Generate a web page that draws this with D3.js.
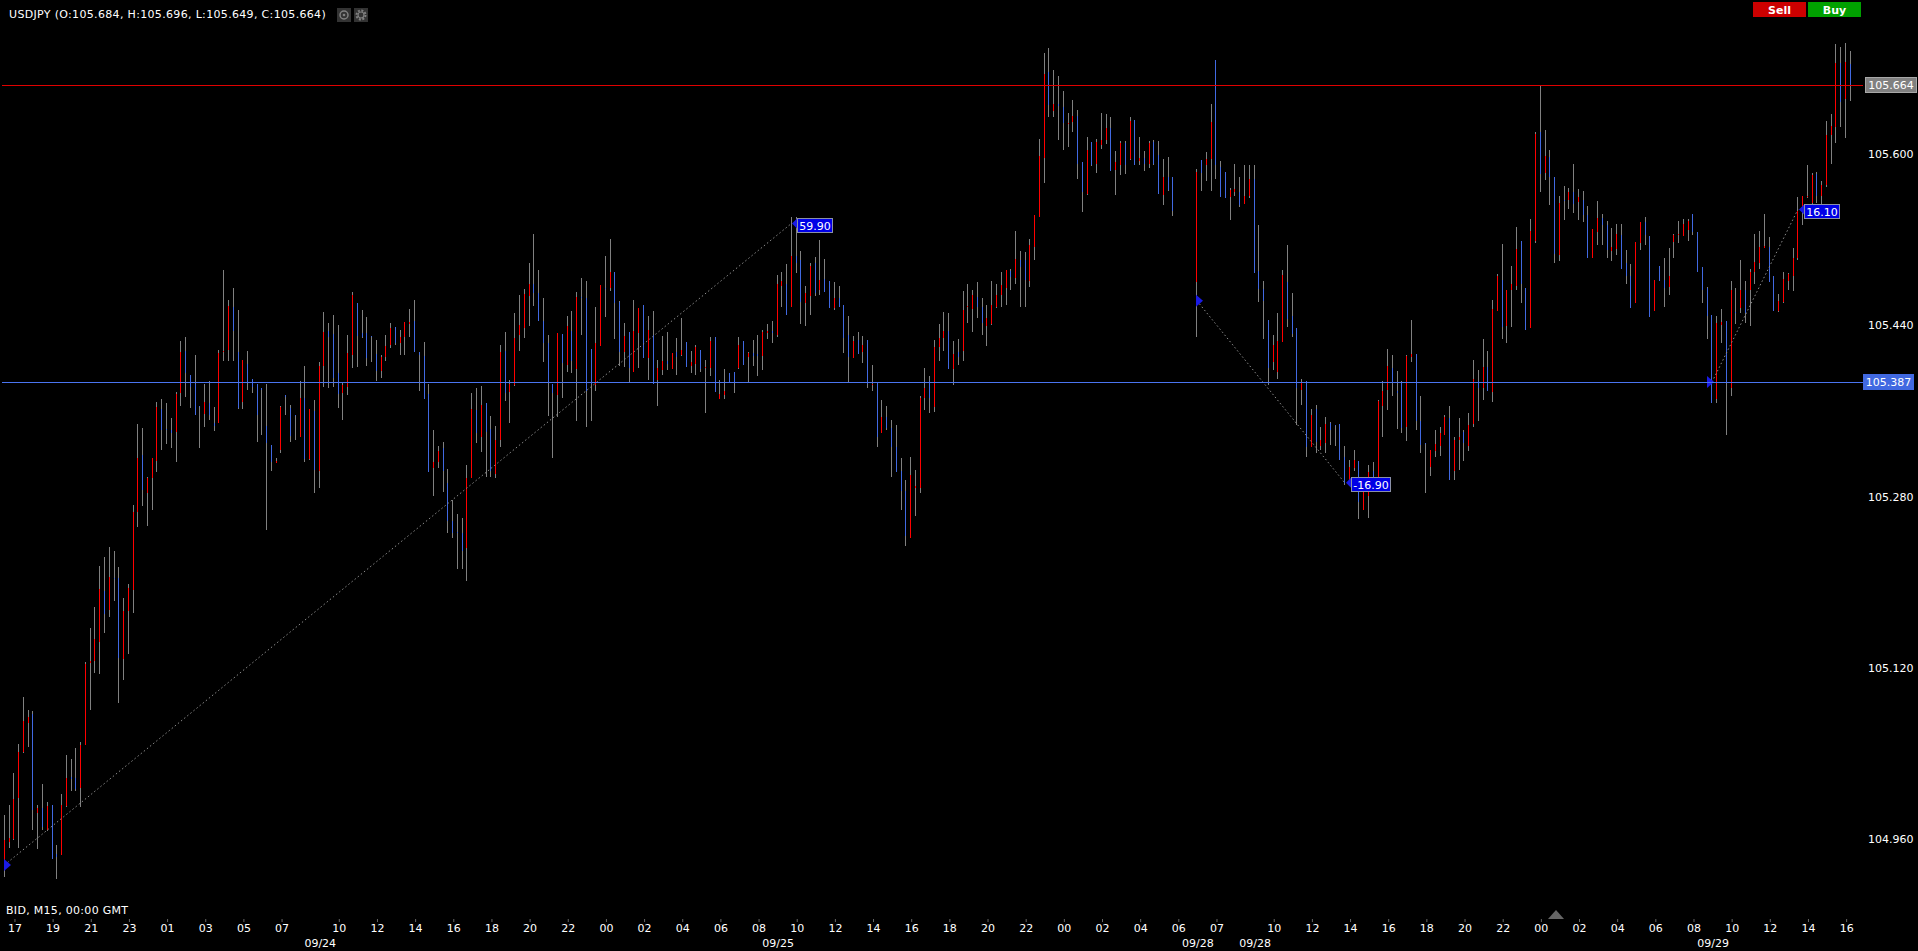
<!DOCTYPE html>
<html>
<head>
<meta charset="utf-8">
<title>USDJPY M15</title>
<script src="https://cdn.jsdelivr.net/npm/d3@7/dist/d3.min.js"></script>
<style>
    html, body { margin: 0; padding: 0; background: #000; overflow: hidden; }
    svg { display: block; font-family: "DejaVu Sans", sans-serif; font-size: 11px; }
    .marks line { shape-rendering: crispEdges; }
</style>
</head>
<body>
<svg id="chart" width="1918" height="951"></svg>
<script>
// Prices are stored in thousandths above 104.000, one entry per M15 bar.
// The four nulls are the weekend gap between the 09/25 and 09/28 sessions.
const highs = [
    983,992,1022,1049,1093,1081,1080,992,1012,995,
    992,955,1002,1039,1035,1045,1051,1126,1157,1177,
    1215,1224,1233,1229,1214,1185,1198,1272,1348,1344,
    1298,1316,1368,1371,1367,1353,1378,1425,1429,1394,
    1412,1365,1385,1388,1364,1417,1492,1464,1475,1454,
    1408,1416,1390,1385,1381,1385,1328,1316,1365,1375,
    1366,1356,1388,1402,1362,1370,1406,1452,1442,1450,
    1440,1387,1431,1471,1461,1454,1448,1430,1426,1412,
    1431,1442,1438,1436,1443,1455,1464,1415,1424,1385,
    1342,1327,1331,1306,1277,1264,1260,1310,1377,1381,
    1383,1367,1355,1346,1422,1434,1389,1451,1468,1474,
    1498,1525,1492,1465,1431,1385,1433,1432,1449,1453,
    1471,1484,1481,1418,1457,1478,1505,1521,1490,1463,
    1442,1434,1464,1456,1459,1449,1453,1408,1430,1434,
    1414,1428,1447,1424,1416,1422,1417,1408,1429,1429,
    1389,1399,1395,1396,1429,1425,1415,1426,1431,1436,
    1441,1444,1487,1490,1497,1541,1541,1509,1477,1498,
    1504,1520,1502,1481,1480,1477,1459,1449,1430,1434,
    1430,1426,1403,1387,1370,1365,1352,1347,1316,1296,
    1317,1305,1374,1400,1393,1426,1441,1452,1451,1425,
    1427,1472,1479,1473,1480,1465,1459,1481,1479,1490,
    1492,1493,1528,1509,1508,1521,1543,1614,1694,1699,
    1678,1673,1659,1638,1650,1641,1592,1616,1611,1614,
    1638,1637,1634,1603,1612,1612,1634,1632,1616,1603,
    1612,1613,1612,1595,1597,1578,null,null,null,null,
    1586,1594,1602,1647,1688,1593,1583,1568,1591,1578,
    1590,1590,1590,1534,1481,1445,1431,1451,1492,1515,
    1470,1437,1390,1388,1362,1366,1345,1354,1350,1347,
    1348,1327,1314,1324,1313,1297,1310,1312,1370,1388,
    1418,1412,1397,1388,1412,1445,1413,1374,1330,1324,
    1342,1345,1356,1365,1336,1353,1342,1358,1408,1398,
    1427,1416,1464,1488,1516,1473,1495,1532,1519,1475,
    1539,1620,1663,1622,1604,1578,1561,1570,1568,1591,
    1567,1565,1551,1530,1556,1544,1537,1531,1535,1535,
    1510,1497,1518,1536,1541,1523,1482,1495,1503,1512,
    1525,1537,1539,1539,1544,1527,1494,1476,1450,1449,
    1455,1444,1481,1475,1501,1481,1493,1525,1528,1544,
    1522,1486,1469,1490,1489,1512,1560,1561,1590,1582,
    1583,1575,1631,1637,1703,1700,1704,1696
];
const lows = [
    925,952,959,952,1041,1046,969,951,969,968,
    942,923,945,990,1005,1005,990,1048,1081,1115,
    1114,1153,1168,1183,1087,1109,1133,1171,1252,1271,
    1253,1268,1303,1324,1329,1325,1312,1365,1373,1363,
    1356,1325,1345,1352,1341,1349,1407,1407,1407,1362,
    1362,1380,1377,1331,1338,1249,1304,1311,1321,1356,
    1331,1333,1336,1312,1314,1283,1288,1382,1381,1382,
    1363,1352,1375,1400,1401,1428,1402,1406,1388,1391,
    1407,1419,1422,1412,1412,1429,1415,1379,1371,1303,
    1281,1307,1284,1246,1241,1212,1212,1201,1297,1330,
    1322,1298,1298,1297,1326,1369,1349,1383,1416,1428,
    1439,1458,1444,1406,1355,1316,1354,1372,1396,1395,
    1351,1431,1345,1351,1379,1421,1448,1472,1427,1402,
    1401,1387,1396,1400,1409,1389,1385,1365,1394,1398,
    1399,1394,1411,1401,1395,1394,1396,1358,1393,1378,
    1371,1371,1386,1377,1399,1403,1387,1402,1393,1398,
    1427,1423,1429,1457,1450,1457,1489,1441,1439,1450,
    1467,1468,1471,1456,1454,1457,1414,1387,1409,1413,
    1405,1381,1379,1326,1339,1342,1298,1303,1268,1234,
    1241,1262,1283,1361,1358,1359,1407,1416,1399,1384,
    1403,1407,1442,1434,1447,1431,1421,1440,1456,1457,
    1459,1473,1479,1457,1457,1476,1501,1541,1573,1634,
    1634,1613,1604,1606,1620,1577,1546,1562,1589,1582,
    1605,1609,1584,1562,1580,1581,1594,1590,1590,1584,
    1587,1590,1563,1552,1565,1542,null,null,null,null,
    1429,1565,1575,1565,1577,1560,1559,1538,1561,1550,
    1553,1559,1489,1462,1427,1384,1398,1390,1424,1438,
    1429,1347,1366,1317,1326,1321,1324,1321,1328,1327,
    1314,1291,1295,1304,1259,1268,1260,1287,1292,1336,
    1361,1374,1343,1339,1332,1406,1342,1321,1283,1299,
    1317,1318,1338,1296,1296,1305,1313,1323,1345,1351,
    1370,1379,1368,1453,1427,1423,1438,1473,1461,1436,
    1437,1517,1564,1576,1552,1498,1500,1538,1549,1545,
    1538,1536,1503,1503,1515,1515,1503,1500,1506,1493,
    1479,1456,1461,1510,1515,1448,1453,1481,1457,1468,
    1503,1517,1523,1519,1524,1490,1461,1427,1367,1367,
    1423,1338,1374,1441,1451,1442,1439,1479,1493,1512,
    1480,1453,1452,1461,1473,1472,1501,1534,1559,1553,
    1554,1553,1569,1591,1610,1625,1615,1649
];
const opens = [
    939,958,960,999,1042,1069,1077,985,989,969,
    992,946,945,991,1018,1017,1008,1048,1125,1127,
    1144,1192,1174,1204,1204,1128,1173,1193,1266,1319,
    1283,1297,1313,1362,1343,1342,1340,1377,1416,1394,
    1385,1365,1357,1367,1349,1349,1415,1417,1457,1415,
    1368,1404,1390,1385,1381,1346,1328,1311,1324,1375,
    1363,1356,1336,1372,1315,1360,1304,1402,1435,1432,
    1395,1377,1382,1412,1461,1433,1433,1430,1413,1397,
    1410,1422,1438,1423,1429,1441,1444,1415,1411,1376,
    1307,1312,1325,1293,1257,1247,1246,1232,1297,1361,
    1336,1367,1343,1301,1333,1416,1378,1384,1431,1437,
    1467,1479,1470,1444,1423,1385,1375,1432,1403,1435,
    1399,1466,1465,1418,1384,1421,1475,1475,1490,1462,
    1415,1434,1396,1433,1459,1409,1431,1389,1398,1407,
    1399,1415,1412,1424,1402,1404,1417,1400,1400,1429,
    1371,1375,1395,1396,1400,1425,1410,1414,1413,1411,
    1433,1435,1431,1477,1479,1457,1505,1501,1461,1467,
    1498,1473,1483,1481,1456,1465,1459,1431,1409,1426,
    1415,1426,1384,1386,1339,1354,1344,1326,1304,1285,
    1241,1288,1288,1372,1388,1364,1420,1428,1435,1399,
    1415,1416,1457,1455,1466,1457,1439,1441,1457,1468,
    1475,1491,1484,1501,1501,1481,1513,1541,1596,1676,
    1640,1647,1644,1628,1630,1635,1592,1563,1611,1591,
    1608,1613,1624,1585,1590,1610,1595,1632,1593,1596,
    1591,1611,1599,1562,1578,1578,null,null,null,null,
    1480,1594,1590,1595,1688,1588,1583,1560,1564,1564,
    1553,1561,1577,1491,1474,1445,1406,1396,1424,1480,
    1449,1437,1380,1388,1326,1362,1327,1330,1349,1347,
    1348,1317,1295,1307,1313,1268,1281,1304,1295,1365,
    1380,1400,1379,1386,1345,1410,1413,1351,1330,1308,
    1323,1327,1338,1353,1304,1333,1340,1327,1348,1388,
    1381,1401,1378,1453,1482,1439,1473,1477,1519,1475,
    1437,1519,1620,1582,1597,1578,1506,1557,1557,1564,
    1555,1557,1543,1503,1527,1540,1534,1509,1511,1524,
    1498,1486,1461,1517,1536,1523,1453,1495,1482,1476,
    1518,1524,1523,1529,1544,1527,1494,1475,1450,1371,
    1440,1444,1381,1452,1456,1473,1473,1490,1498,1512,
    1513,1486,1453,1462,1481,1486,1503,1548,1560,1554,
    1581,1561,1571,1618,1625,1685,1651,1684
];
const closes = [
    959,961,998,1042,1071,1074,987,989,972,991,
    942,944,992,1017,1016,1007,1048,1124,1127,1147,
    1194,1170,1205,1203,1129,1173,1195,1266,1316,1286,
    1297,1316,1364,1342,1342,1339,1376,1415,1395,1382,
    1356,1364,1368,1356,1346,1414,1416,1458,1435,1363,
    1408,1386,1382,1356,1380,1330,1312,1313,1364,1373,
    1337,1355,1372,1315,1362,1305,1402,1434,1429,1391,
    1376,1384,1414,1468,1430,1429,1409,1429,1397,1410,
    1421,1437,1423,1429,1443,1443,1415,1412,1371,1303,
    1312,1323,1304,1257,1246,1246,1229,1297,1362,1339,
    1366,1340,1304,1333,1415,1377,1385,1428,1440,1469,
    1479,1470,1444,1423,1386,1377,1433,1405,1439,1407,
    1466,1465,1379,1385,1423,1478,1474,1490,1461,1415,
    1430,1400,1435,1456,1409,1436,1385,1400,1407,1404,
    1414,1410,1417,1401,1406,1420,1399,1401,1425,1378,
    1376,1379,1386,1386,1422,1403,1414,1411,1411,1434,
    1435,1433,1479,1481,1450,1505,1498,1462,1470,1495,
    1470,1482,1471,1456,1465,1457,1428,1410,1425,1413,
    1422,1385,1385,1336,1354,1344,1326,1303,1285,1243,
    1300,1290,1372,1381,1372,1420,1428,1435,1399,1413,
    1410,1454,1458,1468,1457,1442,1447,1459,1468,1478,
    1492,1485,1502,1494,1482,1515,1543,1598,1675,1646,
    1647,1645,1629,1629,1635,1591,1564,1604,1590,1611,
    1613,1624,1584,1592,1610,1590,1631,1590,1596,1591,
    1610,1591,1563,1578,1566,1547,null,null,null,null,
    1583,1582,1595,1630,1590,1560,1559,1566,1567,1552,
    1561,1577,1489,1474,1463,1400,1422,1425,1487,1446,
    1432,1381,1386,1326,1356,1331,1333,1348,1342,1346,
    1314,1293,1308,1314,1275,1284,1303,1287,1369,1379,
    1402,1386,1377,1344,1411,1413,1351,1328,1329,1324,
    1329,1339,1354,1296,1333,1336,1330,1347,1390,1381,
    1401,1379,1455,1486,1438,1473,1479,1511,1479,1436,
    1528,1619,1581,1598,1578,1507,1554,1556,1564,1553,
    1560,1543,1503,1530,1540,1534,1510,1513,1525,1493,
    1486,1456,1518,1536,1524,1448,1482,1481,1475,1486,
    1524,1525,1535,1537,1527,1490,1473,1449,1367,1442,
    1443,1386,1473,1451,1473,1451,1490,1499,1513,1514,
    1480,1453,1463,1483,1488,1503,1547,1561,1561,1580,
    1561,1571,1618,1626,1685,1648,1686,1664
];

// Time axis: bar index of each labelled hour, then the labels
const hourBars = [2,10,18,26,34,42,50,58,70,78,86,94,102,110,118,126,134,142,150,158,166,174,182,190,198,206,214,222,230,238,246,254,266,274,282,290,298,306,314,322,330,338,346,354,362,370,378,386];
const hourLabels = ['17','19','21','23','01','03','05','07','10','12','14','16','18','20','22','00','02','04','06','08','10','12','14','16','18','20','22','00','02','04','06','07','10','12','14','16','18','20','22','00','02','04','06','08','10','12','14','16'];
const dateBars = [66, 162, 250, 262, 358];
const dateLabels = ['09/24', '09/25', '09/28', '09/28', '09/29'];

// Price axis and level lines
const priceTicks = [105.6, 105.44, 105.28, 105.12, 104.96];
const lastPrice = 105.664;
const alertPrice = 105.387;

// Measurement trend lines, each from a start bar/price to an end bar/price
const trendStartBars = [0, 250, 358];
const trendEndBars = [165, 281, 376];
const trendStartPrices = [104.936, 105.463, 105.387];
const trendEndPrices = [105.535, 105.293, 105.548];
const trendMarkerBars = [0, 250, 357];
const trendLabels = ['59.90', '-16.90', '16.10'];

const titleText = 'USDJPY (O:105.684, H:105.696, L:105.649, C:105.664)';
const infoText = 'BID, M15, 00:00 GMT';

const upColor = '#ff0000', downColor = '#4169e1', wickColor = '#808080',
    textColor = '#ffffff', lastColor = '#e00000', alertColor = '#4a74f0', markerColor = '#1a1ae6';

const price = v => 104 + v / 1000;

const svg = d3.select('#chart');

const xScale = d3.scaleLinear().domain([0, 387]).range([4.3, 1850.3]);
const yScale = d3.scaleLinear().domain([104.96, 105.6]).range([839.4, 153.9]);
const barX = i => Math.floor(xScale(i)) + 0.5;

const bars = d3.range(highs.length)
    .filter(i => highs[i] !== null)
    .map(i => ({ i, o: price(opens[i]), h: price(highs[i]), l: price(lows[i]), c: price(closes[i]) }));

/**
 * Bars: grey high-low wick with a coloured open-close segment on top.
 */
const marks = svg.append('g').attr('class', 'marks');

marks.append('g').selectAll('line').data(bars).join('line')
    .attr('x1', d => barX(d.i)).attr('x2', d => barX(d.i))
    .attr('y1', d => yScale(d.h)).attr('y2', d => yScale(d.l))
    .attr('stroke', wickColor);

marks.append('g').selectAll('line').data(bars).join('line')
    .attr('x1', d => barX(d.i)).attr('x2', d => barX(d.i))
    .attr('y1', d => yScale(Math.max(d.o, d.c))).attr('y2', d => yScale(Math.min(d.o, d.c)))
    .attr('stroke', d => d.c > d.o ? upColor : downColor);

/**
 * Trend lines and their labels.
 */
const trends = svg.append('g');
trendLabels.forEach((label, k) => {
    const x1 = xScale(trendStartBars[k]), y1 = yScale(trendStartPrices[k]),
        x2 = xScale(trendEndBars[k]), y2 = yScale(trendEndPrices[k]);
    trends.append('line')
        .attr('x1', x1).attr('y1', y1).attr('x2', x2).attr('y2', y2)
        .attr('stroke', '#8c8c8c').attr('stroke-dasharray', '1.5 2.5');

    const mx = Math.floor(xScale(trendMarkerBars[k]));
    trends.append('path')
        .attr('d', `M${mx},${y1 - 6}L${mx + 7},${y1}L${mx},${y1 + 6}Z`)
        .attr('fill', markerColor);

    const boxW = label.length > 5 ? 40 : 36;
    const boxX = Math.round(x2) + 6;
    const boxY = Math.round(y2) - 6;
    trends.append('path')
        .attr('d', `M${boxX},${y2 - 5}L${boxX - 5},${y2}L${boxX},${y2 + 5}Z`)
        .attr('fill', markerColor);
    trends.append('rect')
        .attr('x', boxX + 0.5).attr('y', boxY + 0.5)
        .attr('width', boxW - 1).attr('height', 14)
        .attr('fill', '#0000e6').attr('stroke', '#8a90a8');
    trends.append('text')
        .attr('x', boxX + boxW / 2).attr('y', boxY + 11.5)
        .attr('text-anchor', 'middle').attr('fill', textColor)
        .text(label);
});

/**
 * Level lines, drawn over the bars.
 */
function addLevel(value, color) {
    svg.append('line')
        .attr('x1', 2).attr('x2', 1863)
        .attr('y1', Math.floor(yScale(value)) + 0.5).attr('y2', Math.floor(yScale(value)) + 0.5)
        .attr('stroke', color)
        .style('shape-rendering', 'crispEdges');
}
addLevel(lastPrice, lastColor);
addLevel(alertPrice, alertColor);

/**
 * Axes.
 */
const yAxis = d3.axisRight(yScale)
    .tickValues(priceTicks)
    .tickSize(0)
    .tickPadding(0)
    .tickFormat(d3.format('.3f'));

svg.append('g')
    .attr('transform', 'translate(1868,0)')
    .call(yAxis)
    .call(g => g.select('.domain').remove())
    .attr('font-size', 11).attr('font-family', null)
    .style('color', textColor);

const xAxis = d3.axisBottom(xScale)
    .tickValues(hourBars)
    .tickSize(3)
    .tickPadding(2)
    .tickFormat(d => hourLabels[hourBars.indexOf(d)]);

svg.append('g')
    .attr('transform', 'translate(0.6,919)')
    .call(xAxis)
    .call(g => g.select('.domain').remove())
    .call(g => g.selectAll('.tick line').attr('stroke', '#666'))
    .attr('font-size', 11).attr('font-family', null)
    .style('color', textColor);

const dateAxis = d3.axisBottom(xScale)
    .tickValues(dateBars)
    .tickSize(0)
    .tickPadding(0)
    .tickFormat(d => dateLabels[dateBars.indexOf(d)]);

svg.append('g')
    .attr('transform', 'translate(0.6,939)')
    .call(dateAxis)
    .call(g => g.select('.domain').remove())
    .attr('font-size', 11).attr('font-family', null)
    .style('color', textColor);

/**
 * Price tags on the right edge.
 */
function addPriceTag(value, x, w, fill, stroke) {
    const cy = Math.round(yScale(value));
    svg.append('rect')
        .attr('x', x + 0.5).attr('y', cy - 7.5)
        .attr('width', w).attr('height', 15)
        .attr('fill', fill).attr('stroke', stroke);
    svg.append('text')
        .attr('x', x + w / 2 + 0.5).attr('y', cy + 4)
        .attr('text-anchor', 'middle').attr('fill', textColor)
        .text(d3.format('.3f')(value));
}
addPriceTag(lastPrice, 1865, 51, '#808080', '#a8a8a8');
addPriceTag(alertPrice, 1863, 50, downColor, downColor);

/**
 * Header, footer text and buttons.
 */
svg.append('text').attr('x', 9).attr('y', 18).attr('fill', textColor)
    .attr('letter-spacing', 0.33).text(titleText);
svg.append('text').attr('x', 6).attr('y', 914).attr('fill', textColor)
    .attr('letter-spacing', 0.3).text(infoText);

// Visibility and settings buttons
const eyeBtn = svg.append('g').attr('transform', 'translate(337,8)');
eyeBtn.append('rect').attr('width', 14).attr('height', 14).attr('fill', '#333');
eyeBtn.append('circle').attr('cx', 7).attr('cy', 7).attr('r', 4).attr('fill', 'none').attr('stroke', '#808080').attr('stroke-width', 1.5);
eyeBtn.append('circle').attr('cx', 7).attr('cy', 7).attr('r', 1.3).attr('fill', '#808080');

const gearBtn = svg.append('g').attr('transform', 'translate(354,8)');
gearBtn.append('rect').attr('width', 14).attr('height', 14).attr('fill', '#333');
gearBtn.append('circle').attr('cx', 7).attr('cy', 7).attr('r', 4.5).attr('fill', 'none').attr('stroke', '#808080').attr('stroke-width', 2).attr('stroke-dasharray', '2 1.5');
gearBtn.append('circle').attr('cx', 7).attr('cy', 7).attr('r', 3).attr('fill', 'none').attr('stroke', '#808080').attr('stroke-width', 1.2);

// Trading buttons
[['Sell', 1753, '#cc0000'], ['Buy', 1808, '#00a000']].forEach(([label, x, fill]) => {
    svg.append('rect').attr('x', x).attr('y', 2).attr('width', 53).attr('height', 15).attr('fill', fill);
    svg.append('text')
        .attr('x', x + 26.5).attr('y', 13.5)
        .attr('text-anchor', 'middle').attr('fill', textColor).attr('font-weight', 'bold')
        .text(label);
});

// Small marker above the time axis
svg.append('path')
    .attr('d', 'M1548,919L1556,910L1564,919Z')
    .attr('fill', '#666');
</script>
</body>
</html>
